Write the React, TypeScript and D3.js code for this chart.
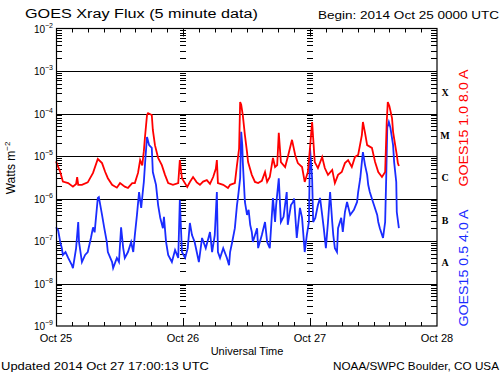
import React from "react";
import * as d3 from "d3";

// hours since 2014-10-25 00:00 UTC, flux in W/m^2
const longHours = [0, 0.8, 1.3, 2.3, 3.2, 3.8, 4.0, 4.2, 4.9, 6.0, 7.0, 7.9, 8.7, 9.3, 9.8, 10.6, 11.5, 12.1, 13.0, 13.6, 14.4, 14.9, 15.5, 15.9, 16.3, 16.6, 16.8, 17.2, 17.4, 18.1, 18.3, 18.7, 19.3, 20.0, 20.6, 21.2, 22.1, 23.1, 23.4, 23.8, 24.8, 25.3, 25.9, 26.6, 27.2, 27.8, 28.5, 29.1, 29.7, 30.2, 30.4, 30.6, 31.6, 32.5, 32.9, 33.8, 34.2, 34.6, 34.8, 35.0, 35.3, 35.7, 36.1, 36.3, 37.0, 37.6, 38.2, 38.9, 39.5, 39.9, 40.4, 41.0, 41.4, 41.8, 42.1, 42.5, 43.3, 43.8, 44.6, 45.2, 45.7, 46.5, 47.0, 47.6, 48.0, 48.4, 48.6, 48.9, 49.5, 50.3, 50.8, 51.4, 52.2, 52.7, 53.3, 54.0, 54.6, 55.2, 55.9, 56.5, 57.1, 57.8, 58.0, 58.4, 58.8, 59.7, 60.3, 60.9, 61.6, 62.2, 62.5, 62.7, 63.0, 63.5, 63.7, 64.1, 64.4, 64.6, 64.8];
const longFlux = [7.5e-6, 4.2e-6, 2.5e-6, 2.3e-6, 1.9e-6, 2.2e-6, 3.2e-6, 2.1e-6, 2.1e-6, 2.4e-6, 4.0e-6, 8.5e-6, 6.8e-6, 4.2e-6, 3.0e-6, 2.1e-6, 1.8e-6, 2.3e-6, 1.9e-6, 1.77e-6, 2.3e-6, 2.3e-6, 4.0e-6, 8.0e-6, 6.0e-6, 1.3e-5, 2.65e-5, 9.2e-5, 1.02e-4, 9.2e-5, 4.1e-5, 1.8e-5, 9.0e-6, 6.1e-6, 3.6e-6, 2.3e-6, 2.1e-6, 2.3e-6, 8.0e-6, 3.0e-6, 1.87e-6, 2.45e-6, 3.2e-6, 2.4e-6, 2.1e-6, 2.5e-6, 2.7e-6, 2.2e-6, 3.2e-6, 5.0e-6, 8.0e-6, 2.3e-6, 2.1e-6, 1.77e-6, 2.1e-6, 2.3e-6, 6.1e-6, 1.5e-5, 1.86e-4, 1.6e-4, 9.2e-5, 3.1e-5, 1.24e-5, 7.2e-6, 3.6e-6, 2.45e-6, 2.3e-6, 2.6e-6, 4.2e-6, 2.45e-6, 3.2e-6, 9.0e-6, 5.5e-6, 6.1e-6, 3.5e-5, 7.2e-6, 5.5e-6, 9.5e-6, 2.4e-5, 1.06e-5, 6.8e-6, 5.5e-6, 2.45e-6, 4.2e-6, 1.55e-5, 6.3e-5, 2.65e-5, 7.2e-6, 5.2e-6, 9.5e-6, 5.2e-6, 3.6e-6, 4.7e-6, 2.3e-6, 3.6e-6, 4.2e-6, 6.8e-6, 8.0e-6, 5.5e-6, 9.5e-6, 1.06e-5, 3.1e-5, 6.3e-5, 3.5e-5, 1.8e-5, 1.55e-5, 7.2e-6, 4.2e-6, 3.2e-6, 4.2e-6, 6.3e-5, 1.86e-4, 1.5e-4, 7.8e-5, 3.7e-5, 1.8e-5, 1.06e-5, 6.8e-6, 5.8e-6];

const shortHours = [0, 0.4, 0.8, 1.1, 1.3, 1.8, 2.3, 3.0, 3.2, 3.8, 4.2, 4.35, 4.9, 5.5, 6.0, 6.6, 7.0, 7.3, 7.9, 8.1, 8.7, 9.1, 9.6, 9.8, 10.6, 10.8, 11.5, 11.9, 12.3, 12.7, 13.0, 13.6, 14.2, 14.6, 14.9, 15.3, 15.7, 16.1, 16.4, 16.6, 16.9, 17.2, 17.6, 18.1, 18.3, 18.9, 19.3, 19.7, 20.2, 20.4, 20.8, 21.2, 21.9, 22.5, 23.1, 23.4, 23.8, 24.4, 24.9, 25.3, 25.7, 26.2, 26.6, 27.0, 27.6, 28.3, 29.1, 29.5, 30.0, 30.4, 30.6, 31.0, 31.6, 32.3, 32.7, 32.9, 33.3, 33.8, 34.2, 34.4, 34.8, 35.0, 35.2, 35.3, 35.7, 36.1, 36.4, 36.7, 37.0, 37.2, 38.0, 38.2, 38.9, 39.5, 39.9, 40.4, 41.0, 41.4, 41.6, 42.1, 42.5, 43.0, 43.6, 43.8, 44.4, 44.8, 45.0, 45.5, 46.1, 46.5, 47.0, 47.4, 47.8, 48.0, 48.4, 48.6, 49.0, 49.5, 49.9, 50.3, 50.6, 51.0, 51.4, 51.8, 52.2, 52.4, 52.7, 53.1, 53.3, 53.9, 54.2, 54.6, 55.0, 55.6, 56.3, 56.9, 57.1, 57.5, 57.8, 58.0, 58.4, 58.8, 59.0, 59.3, 59.9, 60.7, 60.9, 61.2, 61.8, 62.2, 62.4, 62.6, 62.9, 63.2, 63.7, 63.9, 64.3, 64.4, 64.6, 64.8];
const shortFlux = [2.1e-7, 1.8e-7, 9.5e-8, 6.8e-8, 4.7e-8, 5.5e-8, 4.0e-8, 2.7e-8, 2.3e-8, 6.8e-8, 2.8e-7, 9.5e-8, 3.2e-8, 4.7e-8, 5.5e-8, 1.18e-7, 2.1e-7, 1.6e-7, 1.03e-6, 1.08e-6, 4.1e-7, 2.1e-7, 9.5e-8, 5.5e-8, 3.2e-8, 2.3e-8, 4.0e-8, 3.2e-8, 2.1e-7, 6.8e-8, 4.0e-8, 5.5e-8, 9.5e-8, 5.5e-8, 1.38e-7, 4.1e-7, 1.42e-6, 6.0e-7, 1.42e-6, 2.45e-6, 9.0e-6, 2.8e-5, 1.8e-5, 1.55e-5, 4.2e-6, 2.1e-6, 7.0e-7, 3.5e-7, 2.0e-7, 3.7e-7, 9.5e-8, 4.7e-8, 3.2e-8, 6.1e-8, 4.0e-8, 9.2e-7, 5.5e-8, 4.0e-8, 6.8e-8, 2.65e-7, 1.38e-7, 9.5e-8, 5.5e-8, 3.2e-8, 1.18e-7, 6.8e-8, 1.63e-7, 5.5e-8, 1.38e-7, 1.42e-6, 5.5e-8, 4.0e-8, 6.8e-8, 4.0e-8, 2.7e-8, 5.5e-8, 9.5e-8, 2.0e-7, 7.0e-7, 1.08e-6, 3.0e-6, 3.7e-5, 1.8e-5, 7.2e-6, 8.3e-7, 4.1e-7, 5.4e-7, 2.4e-7, 1.63e-7, 9.5e-8, 2.0e-7, 6.8e-8, 1.38e-7, 2.8e-7, 9.5e-8, 6.8e-8, 1.03e-6, 2.8e-7, 7.0e-7, 3.0e-6, 2.8e-7, 3.7e-7, 1.42e-6, 2.4e-7, 7.0e-7, 8.3e-7, 1.0e-6, 1.18e-7, 6.0e-7, 3.5e-7, 5.5e-8, 1.38e-7, 2.8e-7, 1.55e-5, 3.0e-6, 2.8e-7, 3.5e-7, 7.0e-7, 1.03e-6, 4.1e-7, 2.0e-7, 6.8e-8, 2.8e-7, 1.42e-6, 2.8e-7, 1.38e-7, 6.8e-8, 5.5e-8, 2.0e-7, 3.5e-7, 1.63e-7, 4.8e-7, 8.3e-7, 4.1e-7, 5.4e-7, 8.3e-7, 1.42e-6, 3.0e-6, 7.2e-6, 1.24e-5, 6.1e-6, 3.6e-6, 2.1e-6, 1.42e-6, 8.3e-7, 4.1e-7, 2.8e-7, 2.0e-7, 1.18e-7, 2.8e-7, 3.0e-6, 4.6e-5, 6.3e-5, 4.6e-5, 1.8e-5, 7.2e-6, 2.45e-6, 4.8e-7, 3.1e-7, 2.0e-7];

const dayLabels = ["Oct 25", "Oct 26", "Oct 27", "Oct 28"];
const decadeExps = [-2, -3, -4, -5, -6, -7, -8, -9];
const classLetters = ["X", "M", "C", "B", "A"];
const classFlux = [3.16e-4, 3.16e-5, 3.16e-6, 3.16e-7, 3.16e-8];

const W = 500, H = 375;
const L = 56, R = 437, T = 28.5, B = 326;

export default function App() {
  const x = d3.scaleLinear().domain([0, 72]).range([L, R]);
  const y = d3.scaleLog().domain([1e-9, 1e-2]).range([B, T]);
  const line = d3.line<[number, number]>().x(d => x(d[0])).y(d => y(d[1]));
  const longPts = longHours.map((h, i) => [h, longFlux[i]] as [number, number]);
  const shortPts = shortHours.map((h, i) => [h, shortFlux[i]] as [number, number]);

  const minors: number[] = [];
  for (let e = -9; e < -2; e++) for (let m = 2; m <= 9; m++) minors.push(m * Math.pow(10, e));
  const hourTicks = d3.range(3, 72, 3);
  const font = "'Liberation Sans', Arial, sans-serif";

  return (
    <svg width={W} height={H} style={{ position: "absolute", left: 0, top: 0, background: "#fff" }} fontFamily={font}>
      <rect x={0} y={0} width={W} height={H} fill="#fff" />
      {/* decade grid lines */}
      {decadeExps.slice(1, -1).map(e => (
        <line key={e} x1={L} x2={R} y1={Math.round(y(Math.pow(10, e))) + 0.5} y2={Math.round(y(Math.pow(10, e))) + 0.5} stroke="#000" strokeWidth={1.2} />
      ))}
      {/* minor ticks on left and right axes and day lines */}
      {minors.map((v, i) => {
        const yy = Math.round(y(v)) + 0.5;
        return (
          <g key={i}>
            <line x1={L} x2={L + 6} y1={yy} y2={yy} stroke="#000" />
            <line x1={R - 6} x2={R} y1={yy} y2={yy} stroke="#000" />
            <line x1={x(24) - 3} x2={x(24) + 3} y1={yy} y2={yy} stroke="#000" />
            <line x1={x(48) - 3} x2={x(48) + 3} y1={yy} y2={yy} stroke="#000" />
          </g>
        );
      })}
      {/* time ticks */}
      {hourTicks.map(h => {
        const xx = Math.round(x(h)) + 0.5;
        const len = h % 24 === 0 ? 8 : 4;
        return (
          <g key={h}>
            <line x1={xx} x2={xx} y1={T} y2={T + len} stroke="#000" />
            <line x1={xx} x2={xx} y1={B} y2={B - len} stroke="#000" />
          </g>
        );
      })}
      {/* data */}
      <path d={line(shortPts) || ""} fill="none" stroke="#1a2cff" strokeWidth={1.8} />
      <path d={line(longPts) || ""} fill="none" stroke="#ff0000" strokeWidth={1.8} />
      {/* frame */}
      <rect x={L + 0.5} y={T} width={R - L - 0.5} height={B - T} fill="none" stroke="#000" strokeWidth={1.2} />
      {/* y labels */}
      {decadeExps.map(e => (
        <text key={e} x={L - 3} y={y(Math.pow(10, e)) + 4} fontSize={10} textAnchor="end" fill="#000">
          10<tspan fontSize={7} dy={-5}>{"\u2212" + String(-e)}</tspan>
        </text>
      ))}
      <text transform={`translate(15,168) rotate(-90)`} fontSize={12} textAnchor="middle" fill="#000">
        Watts m<tspan fontSize={8} dy={-5}>−2</tspan>
      </text>
      {/* class letters */}
      {classLetters.map((c, i) => (
        <text key={c} x={445} y={y(classFlux[i]) + 4} fontSize={10} fontWeight="bold" fontFamily="'Liberation Serif', serif" textAnchor="middle" fill="#000">{c}</text>
      ))}
      {/* series labels */}
      <text transform={`translate(468,128) rotate(-90)`} fontSize={12} textAnchor="middle" fill="#ff0000" textLength={117} lengthAdjust="spacingAndGlyphs">GOES15 1.0 8.0 A</text>
      <text transform={`translate(468,268) rotate(-90)`} fontSize={12} textAnchor="middle" fill="#1a2cff" textLength={117} lengthAdjust="spacingAndGlyphs">GOES15 0.5 4.0 A</text>
      {/* x labels */}
      {dayLabels.map((d, i) => (
        <text key={d} x={x(i * 24)} y={342} fontSize={11} textAnchor="middle" fill="#000">{d}</text>
      ))}
      <text x={247} y={355} fontSize={11} textAnchor="middle" fill="#000">Universal Time</text>
      {/* titles */}
      <text x={25} y={18} fontSize={12} fill="#000" textLength={233} lengthAdjust="spacingAndGlyphs">GOES Xray Flux (5 minute data)</text>
      <text x={318} y={19} fontSize={11} fill="#000" textLength={181} lengthAdjust="spacingAndGlyphs">Begin: 2014 Oct 25 0000 UTC</text>
      <text x={1} y={370} fontSize={11} fill="#000" textLength={208} lengthAdjust="spacingAndGlyphs">Updated 2014 Oct 27 17:00:13 UTC</text>
      <text x={333} y={370} fontSize={11} fill="#000" textLength={166} lengthAdjust="spacingAndGlyphs">NOAA/SWPC Boulder, CO USA</text>
    </svg>
  );
}
